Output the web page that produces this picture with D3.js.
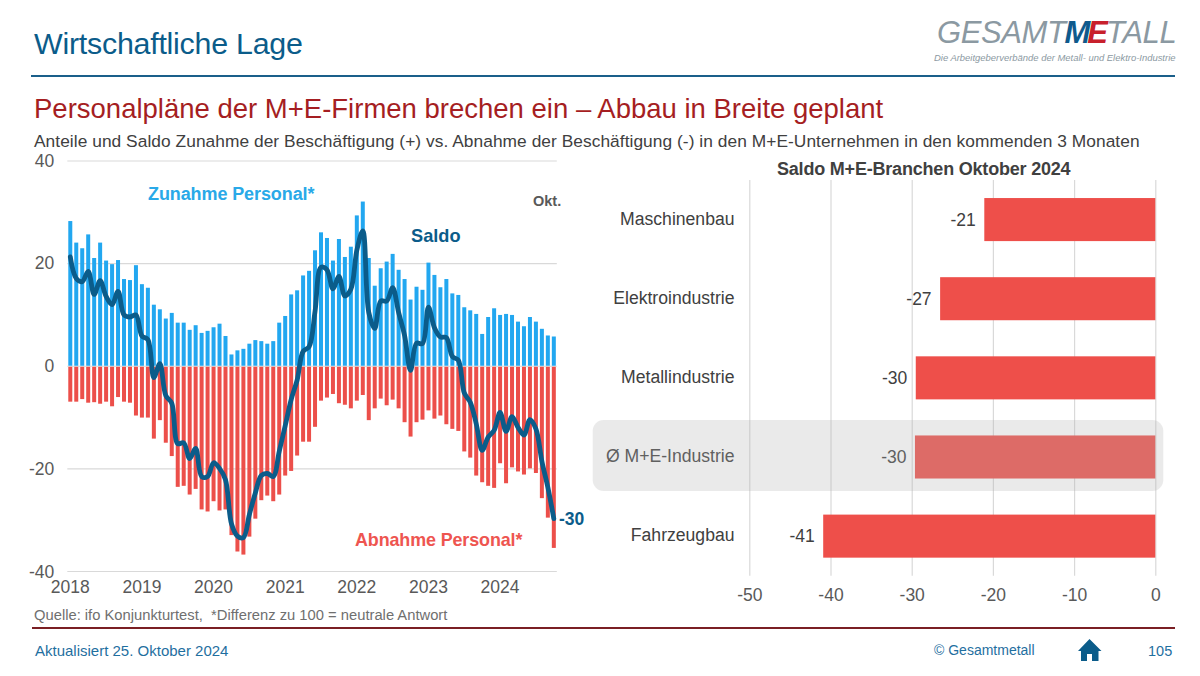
<!DOCTYPE html>
<html lang="de"><head><meta charset="utf-8">
<script src="https://cdn.jsdelivr.net/npm/d3@7"></script>
<style>
html,body{margin:0;padding:0;background:#fff}
svg{display:block}
text{font-family:"Liberation Sans",Arial,sans-serif}
</style></head><body><div id="c"></div>
<script>
const years = ["2018","2019","2020","2021","2022","2023","2024"];
const yTicks = [40,20,0,-20,-40];
const zunahme = [28.2,24,22.9,25.6,21,24,20.5,19.8,20.6,16.9,16.7,19.6,15.9,15.2,11.9,11,9.2,10.3,8.4,8.4,7,7.9,6.4,6.8,7.5,8.2,5.8,2.2,3,3.3,4.3,5,4.8,4.3,4.8,8.4,9.7,13.9,14.7,17.6,18.5,22.5,26,24.9,20.5,24.7,21.2,23.2,29.3,32,21,15.6,19,20.3,21.8,18.7,16.9,12.9,15.4,14.8,20.1,17.7,15.3,16.9,14.1,13.8,11.4,10.8,10.1,6.2,9.5,11.2,9.9,10.1,9.9,8.6,7.7,9.5,8.6,7.2,5.9,5.7];
const abnahme = [-7,-7,-6.5,-7.2,-7.1,-7.4,-7,-7.9,-6.1,-7,-7.2,-9.7,-10.1,-10.1,-14.2,-10.6,-15,-17.6,-23.6,-23.4,-25.1,-24,-28,-28.4,-26.4,-28.2,-28,-33,-36.2,-36.8,-33.3,-29.8,-26.2,-25.3,-26.4,-25.1,-21.4,-20.5,-17.5,-14.8,-14.8,-11.9,-6.8,-6.2,-5.5,-7.3,-7.6,-8.3,-6.8,-5.7,-10.6,-8.3,-6.4,-7.7,-6.6,-8.3,-11,-13.8,-11,-10.5,-8.7,-10.3,-9.7,-11.4,-12.3,-12.7,-16.7,-17.9,-21.4,-22.7,-23.4,-23.8,-19,-22.9,-19.8,-20.6,-21.2,-20,-20.9,-25.8,-29.6,-35.5];
const saldo = [21.2,17,16.4,18.4,13.9,16.6,13.5,11.9,14.5,9.9,9.5,9.9,5.8,5.1,-2.3,0.4,-5.8,-7.3,-15.2,-15,-18.1,-16.1,-21.6,-21.6,-18.9,-20,-22.2,-30.8,-33.2,-33.5,-29,-24.8,-21.4,-21,-21.6,-16.7,-11.7,-6.6,-2.8,2.8,3.7,10.6,19.2,18.7,15,17.4,13.6,14.9,22.5,26.3,10.4,7.3,12.6,12.6,15.2,10.4,5.9,-0.9,4.4,4.3,11.4,7.4,5.6,5.5,1.8,1.1,-5.3,-7.1,-11.3,-16.5,-13.9,-12.6,-9.1,-12.8,-9.9,-12,-13.5,-10.5,-12.3,-18.6,-23.7,-29.8];
const branchen = ["Maschinenbau","Elektroindustrie","Metallindustrie","Ø M+E-Industrie","Fahrzeugbau"];
const branchenWerte = [-21.06,-26.5,-29.5,-29.6,-40.9];
const branchenLabels = ["-21","-27","-30","-30","-41"];
const xTicksRight = [-50,-40,-30,-20,-10,0];

const blue="#0b5c8a", red="#a51e22", textC="#404040", grey="#595959", grid="#d9d9d9";
const ff='"Liberation Sans",Arial,sans-serif';
const svg=d3.select("#c").append("svg").attr("width",1200).attr("height",676);
function T(x,y,s,o={}){return svg.append("text").attr("x",x).attr("y",y).text(s)
  .attr("font-size",o.size||16).attr("fill",o.fill||textC).attr("font-weight",o.bold?"bold":null)
  .attr("font-style",o.italic?"italic":null).attr("text-anchor",o.anchor||"start")
  .attr("letter-spacing",o.ls||null).style("white-space","pre");}

// Header
T(34,54,"Wirtschaftliche Lage",{size:30.4,fill:blue,ls:-0.25});
svg.append("rect").attr("x",31).attr("y",75).attr("width",1144).attr("height",2).attr("fill","#1a5f8a");
T(34,117.5,"Personalpläne der M+E-Firmen brechen ein – Abbau in Breite geplant",{size:27.5,fill:red});
T(34,147,"Anteile und Saldo Zunahme der Beschäftigung (+) vs. Abnahme der Beschäftigung (-) in den M+E-Unternehmen in den kommenden 3 Monaten",{size:17.33,fill:textC,ls:0.05});

// Logo
const lg=svg.append("text").attr("y",43).attr("font-size",31).attr("font-style","italic");
lg.append("tspan").attr("x",937).attr("fill","#8b99a2").attr("letter-spacing",-0.4).text("GESAMT");
lg.append("tspan").attr("font-weight","bold").attr("fill","#0f5a8c").attr("dx",-1).attr("letter-spacing",-3).text("M");
lg.append("tspan").attr("font-weight","bold").attr("fill","#c8202c").attr("letter-spacing",-2).text("E");
lg.append("tspan").attr("fill","#8b99a2").attr("dx",0).attr("letter-spacing",-0.4).text("TALL");
T(934,61,"Die Arbeitgeberverbände der Metall- und Elektro-Industrie",{size:9.45,italic:true,fill:"#8b99a2"});

// Left chart
const x=d3.scaleBand().domain(d3.range(saldo.length)).range([67.3,556.8]).paddingInner(0.33).paddingOuter(0.165);
const y=d3.scaleLinear().domain([-40,40]).range([571,160.5]);
const gy=svg.append("g").attr("transform","translate(67.3,0)")
  .call(d3.axisLeft(y).tickValues(yTicks).tickSize(-489.5).tickPadding(13).tickFormat(d=>String(d)));
gy.select(".domain").remove();
gy.selectAll(".tick line").attr("stroke",grid).attr("stroke-width",1.2);
gy.selectAll("text").attr("font-size",17.5).attr("fill",grey).style("font-family",ff);
gy.selectAll(".tick text").attr("dy",d=>(d===40||d===-40)?"0.36em":"0.33em");

svg.append("g").selectAll("rect").data(zunahme).join("rect")
  .attr("x",(d,i)=>x(i)).attr("width",x.bandwidth()).attr("y",d=>y(d)).attr("height",d=>y(0)-y(d)).attr("fill","#22a7f0");
svg.append("g").selectAll("rect").data(abnahme).join("rect")
  .attr("x",(d,i)=>x(i)).attr("width",x.bandwidth()).attr("y",y(0)+1).attr("height",d=>y(d)-y(0)-1).attr("fill","#ec4f4a");

const gx=svg.append("g").attr("transform","translate(0,571)")
  .call(d3.axisBottom(x).tickValues(years.map((d,i)=>i*12)).tickSize(0).tickPadding(10).tickFormat(i=>years[i/12]));
gx.select(".domain").remove();
gx.selectAll("text").attr("font-size",17.5).attr("fill",grey).style("font-family",ff);

svg.append("path").datum(saldo)
  .attr("d",d3.line().x((d,i)=>x(i)+x.bandwidth()/2).y(d=>y(d)).curve(d3.curveCatmullRom.alpha(0.5)))
  .attr("fill","none").attr("stroke",blue).attr("stroke-width",4.8).attr("stroke-linejoin","round").attr("stroke-linecap","round");

T(148,200,"Zunahme Personal*",{size:18,bold:true,fill:"#29a9e8",ls:-0.1});
T(411,242,"Saldo",{size:18.2,bold:true,fill:blue});
T(533,206,"Okt.",{size:14.5,bold:true,fill:grey});
T(559,525,"-30",{size:17.5,bold:true,fill:blue});
T(355,546,"Abnahme Personal*",{size:17.9,bold:true,fill:"#ee5550",ls:-0.1});
T(34,620,"Quelle: ifo Konjunkturtest,  *Differenz zu 100 = neutrale Antwort",{size:14.75,fill:"#6f6f6f"});

// Right chart
T(777,175,"Saldo M+E-Branchen Oktober 2024",{size:18,bold:true,fill:textC,ls:-0.2});
const rx=d3.scaleLinear().domain([-50,0]).range([749.3,1155.3]);
const ry=d3.scaleBand().domain(branchen).range([180,575.7]).paddingInner(0.456).paddingOuter(0.228);
const grx=svg.append("g").attr("transform","translate(0,575.7)")
  .call(d3.axisBottom(rx).tickValues(xTicksRight).tickSize(-395.7).tickPadding(13).tickFormat(d=>String(d)));
grx.select(".domain").remove();
grx.selectAll(".tick line").attr("stroke",grid).attr("stroke-width",1.2);
grx.selectAll("text").attr("font-size",17.5).attr("fill",grey).style("font-family",ff);

svg.append("g").selectAll("rect").data(branchenWerte).join("rect")
  .attr("x",d=>rx(d)).attr("width",d=>rx(0)-rx(d)).attr("y",(d,i)=>ry(branchen[i])).attr("height",ry.bandwidth()).attr("fill","#ee4f4a");
svg.append("g").selectAll("text").data(branchenWerte).join("text")
  .attr("x",d=>rx(d)-8.5).attr("y",(d,i)=>ry(branchen[i])+ry.bandwidth()/2).attr("dy","0.36em")
  .attr("text-anchor","end").attr("font-size",17.5).attr("fill",textC).text((d,i)=>branchenLabels[i]);
svg.append("g").selectAll("text").data(branchen).join("text")
  .attr("x",734.5).attr("y",d=>ry(d)+ry.bandwidth()/2).attr("dy","0.3em")
  .attr("text-anchor","end").attr("font-size",17.6).attr("fill",textC).text(d=>d);

// highlight overlay
svg.append("rect").attr("x",592.7).attr("y",420).attr("width",570.6).attr("height",71).attr("rx",11)
  .attr("fill","#b4b4b4").attr("opacity",0.28);

// Footer
svg.append("rect").attr("x",32).attr("y",627).attr("width",1143).attr("height",2).attr("fill","#7a1f24");
T(35,656,"Aktualisiert 25. Oktober 2024",{size:15,fill:"#1f6f9f"});
T(934,655,"© Gesamtmetall",{size:14,fill:"#1f6f9f"});
T(1148,656,"105",{size:14.5,fill:"#1f6f9f"});
svg.append("path").attr("transform","translate(1078,639)")
  .attr("d","M11.5 0 L23.5 12 L20.5 12 L20.5 22 L14 22 L14 15 L9 15 L9 22 L3 22 L3 12 L0 12 Z").attr("fill",blue);
</script></body></html>
